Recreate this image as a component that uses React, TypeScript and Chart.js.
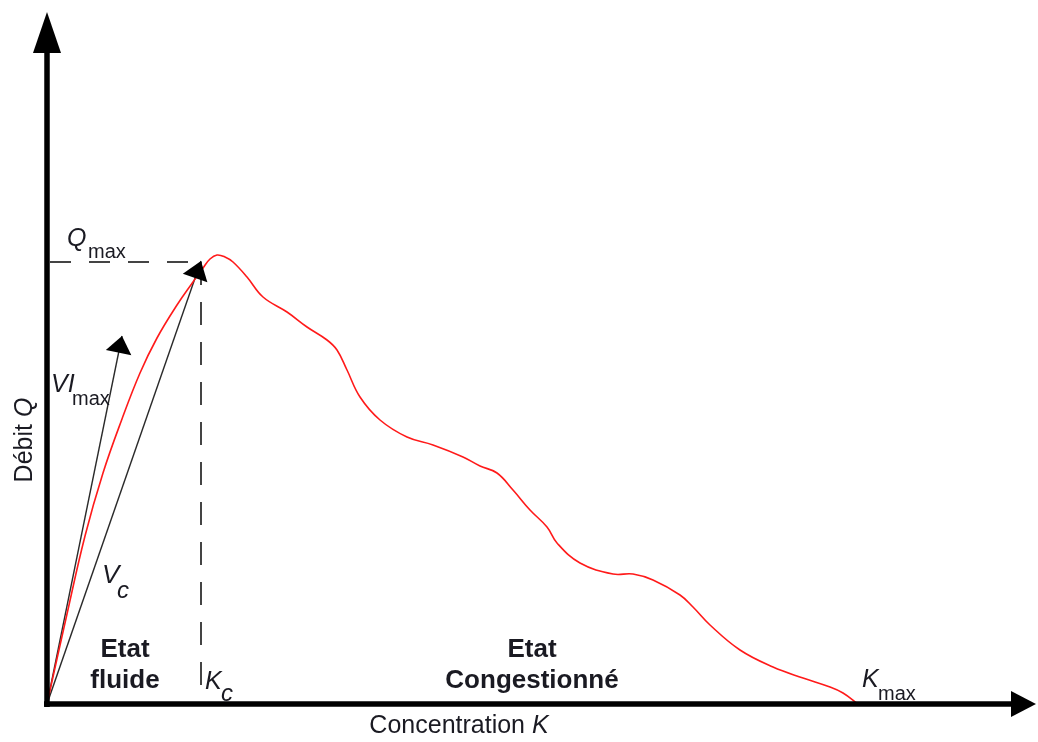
import React, { useEffect, useRef } from "react";
import { Chart, registerables } from "chart.js";

Chart.register(...registerables);

// Concentration K (horizontal) and flow Q (vertical)
const curveK = [0, 20, 38, 56, 75, 93, 110, 130, 146, 156, 163, 170, 178, 186, 200, 216, 240, 260, 280, 290, 300, 313, 333, 360, 386, 416, 433, 450, 466, 483, 500, 510, 533, 566, 586, 606, 633, 646, 663, 693, 726, 756, 783, 796, 811];
const curveQ = [0, 90, 168, 231, 285, 331, 366, 399, 422, 436, 445, 449, 447, 442, 427, 407, 392, 377, 364, 354, 334, 307, 284, 267, 259, 247, 238, 231, 214, 194, 177, 161, 141, 130, 130, 124, 109, 97, 79, 54, 37, 26, 17, 11, 0];

const KC = 154; // critical concentration
const QMAX = 442; // maximum flow
const vcEnd = [154, 443];
const viMaxEnd = [75, 368];
const K_AXIS_MAX = 989;
const Q_AXIS_MAX = 692;

const TEXT = "#1a1a22";
const FONT = "'Liberation Sans', Arial, sans-serif";

export default function App() {
  const ref = useRef<HTMLCanvasElement>(null);

  useEffect(() => {
    const canvas = ref.current;
    if (!canvas) return;
    const ctx = canvas.getContext("2d");
    if (!ctx) return;

    const arrowHead = (c: CanvasRenderingContext2D, x0: number, y0: number, x1: number, y1: number, len: number, half: number) => {
      const dx = x1 - x0, dy = y1 - y0;
      const d = Math.hypot(dx, dy);
      const ux = dx / d, uy = dy / d;
      const bx = x1 - ux * len, by = y1 - uy * len;
      c.beginPath();
      c.moveTo(x1, y1);
      c.lineTo(bx - uy * half, by + ux * half);
      c.lineTo(bx + uy * half, by - ux * half);
      c.closePath();
      c.fill();
    };

    const diagram = {
      id: "diagram",
      afterDatasetsDraw(chart: any) {
        const c: CanvasRenderingContext2D = chart.ctx;
        const xs = chart.scales.x, ys = chart.scales.y;
        const px = (v: number) => xs.getPixelForValue(v);
        const py = (v: number) => ys.getPixelForValue(v);
        c.save();
        // arrowheads for velocity vectors
        c.fillStyle = "#000";
        arrowHead(c, px(0), py(0), px(vcEnd[0]), py(vcEnd[1]), 18, 13);
        arrowHead(c, px(0), py(0), px(viMaxEnd[0]), py(viMaxEnd[1]), 17, 13);

        // axes
        const ox = px(0), oy = py(0);
        const xEnd = px(K_AXIS_MAX), yEnd = py(Q_AXIS_MAX);
        c.strokeStyle = "#000";
        c.lineWidth = 5.5;
        c.lineCap = "butt";
        c.beginPath();
        c.moveTo(ox, oy + 3);
        c.lineTo(ox, yEnd + 38);
        c.stroke();
        c.beginPath();
        c.moveTo(ox - 3, oy);
        c.lineTo(xEnd - 22, oy);
        c.stroke();
        c.beginPath();
        c.moveTo(ox, yEnd);
        c.lineTo(ox - 14, yEnd + 41);
        c.lineTo(ox + 14, yEnd + 41);
        c.closePath();
        c.fill();
        c.beginPath();
        c.moveTo(xEnd, oy);
        c.lineTo(xEnd - 25, oy - 13);
        c.lineTo(xEnd - 25, oy + 13);
        c.closePath();
        c.fill();

        // texts
        c.fillStyle = TEXT;
        c.textBaseline = "alphabetic";
        c.textAlign = "left";
        const it = (s: number) => `italic ${s}px ${FONT}`;
        const rg = (s: number) => `${s}px ${FONT}`;
        const bd = (s: number) => `bold ${s}px ${FONT}`;
        const put = (t: string, f: string, x: number, y: number) => {
          c.font = f;
          c.fillText(t, x, y);
        };
        // Q max
        put("Q", it(25), 67, 246);
        put("max", rg(20), 88, 258);
        // VI max
        put("VI", it(25), 51, 392);
        put("max", rg(20), 72, 405);
        // V c
        put("V", it(26), 102, 583);
        put("c", it(24), 117, 598);
        // K c
        put("K", it(25), 205, 689);
        put("c", it(24), 221, 701);
        // K max
        put("K", it(25), 862, 687);
        put("max", rg(20), 878, 700);
        // regime labels
        c.textAlign = "center";
        put("Etat", bd(26), 125, 657);
        put("fluide", bd(26), 125, 688);
        put("Etat", bd(26), 532, 657);
        put("Congestionné", bd(26), 532, 688);
        // axis titles
        c.textAlign = "left";
        c.font = rg(25);
        const w1 = c.measureText("Concentration ").width;
        c.font = it(25);
        const w2 = c.measureText("K").width;
        const sx = 459 - (w1 + w2) / 2;
        put("Concentration ", rg(25), sx, 733);
        put("K", it(25), sx + w1, 733);

        c.save();
        c.translate(32, 440);
        c.rotate(-Math.PI / 2);
        c.font = rg(25);
        const a1 = c.measureText("Débit ").width;
        c.font = it(25);
        const a2 = c.measureText("Q").width;
        const s0 = -(a1 + a2) / 2;
        put("Débit ", rg(25), s0, 0);
        put("Q", it(25), s0 + a1, 0);
        c.restore();
        c.restore();
      },
    };

    const curve = curveK.map((k, i) => ({ x: k, y: curveQ[i] }));

    const chart = new Chart(ctx, {
      type: "line",
      data: {
        datasets: [
          {
            label: "Q(K)",
            data: curve,
            borderColor: "#ff1a1a",
            borderWidth: 1.6,
            pointRadius: 0,
            tension: 0.4,
            fill: false,
          },
          {
            label: "Vc",
            data: [{ x: 0, y: 0 }, { x: vcEnd[0], y: vcEnd[1] }],
            borderColor: "#2a2a2a",
            borderWidth: 1.4,
            pointRadius: 0,
          },
          {
            label: "VImax",
            data: [{ x: 0, y: 0 }, { x: viMaxEnd[0], y: viMaxEnd[1] }],
            borderColor: "#2a2a2a",
            borderWidth: 1.4,
            pointRadius: 0,
          },
          {
            label: "Qmax",
            data: [{ x: 0, y: QMAX }, { x: KC, y: QMAX }],
            borderColor: "#444",
            borderWidth: 2,
            borderDash: [21, 18],
            borderDashOffset: 36,
            pointRadius: 0,
          },
          {
            label: "Kc",
            data: [{ x: KC, y: QMAX }, { x: KC, y: 0 }],
            borderColor: "#444",
            borderWidth: 2,
            borderDash: [23, 17],
            pointRadius: 0,
          },
        ],
      },
      options: {
        animation: false,
        responsive: false,
        events: [],
        layout: { padding: { left: 47, right: 2, top: 12, bottom: 38 } },
        plugins: { legend: { display: false }, tooltip: { enabled: false }, title: { display: false } },
        scales: {
          x: { type: "linear", min: 0, max: K_AXIS_MAX, display: false },
          y: { type: "linear", min: 0, max: Q_AXIS_MAX, display: false },
        },
      },
      plugins: [diagram],
    });
    return () => chart.destroy();
  }, []);

  return (
    <div style={{ position: "absolute", left: 0, top: 0, width: 1038, height: 742, background: "#fff" }}>
      <canvas ref={ref} width={1038} height={742} />
    </div>
  );
}
